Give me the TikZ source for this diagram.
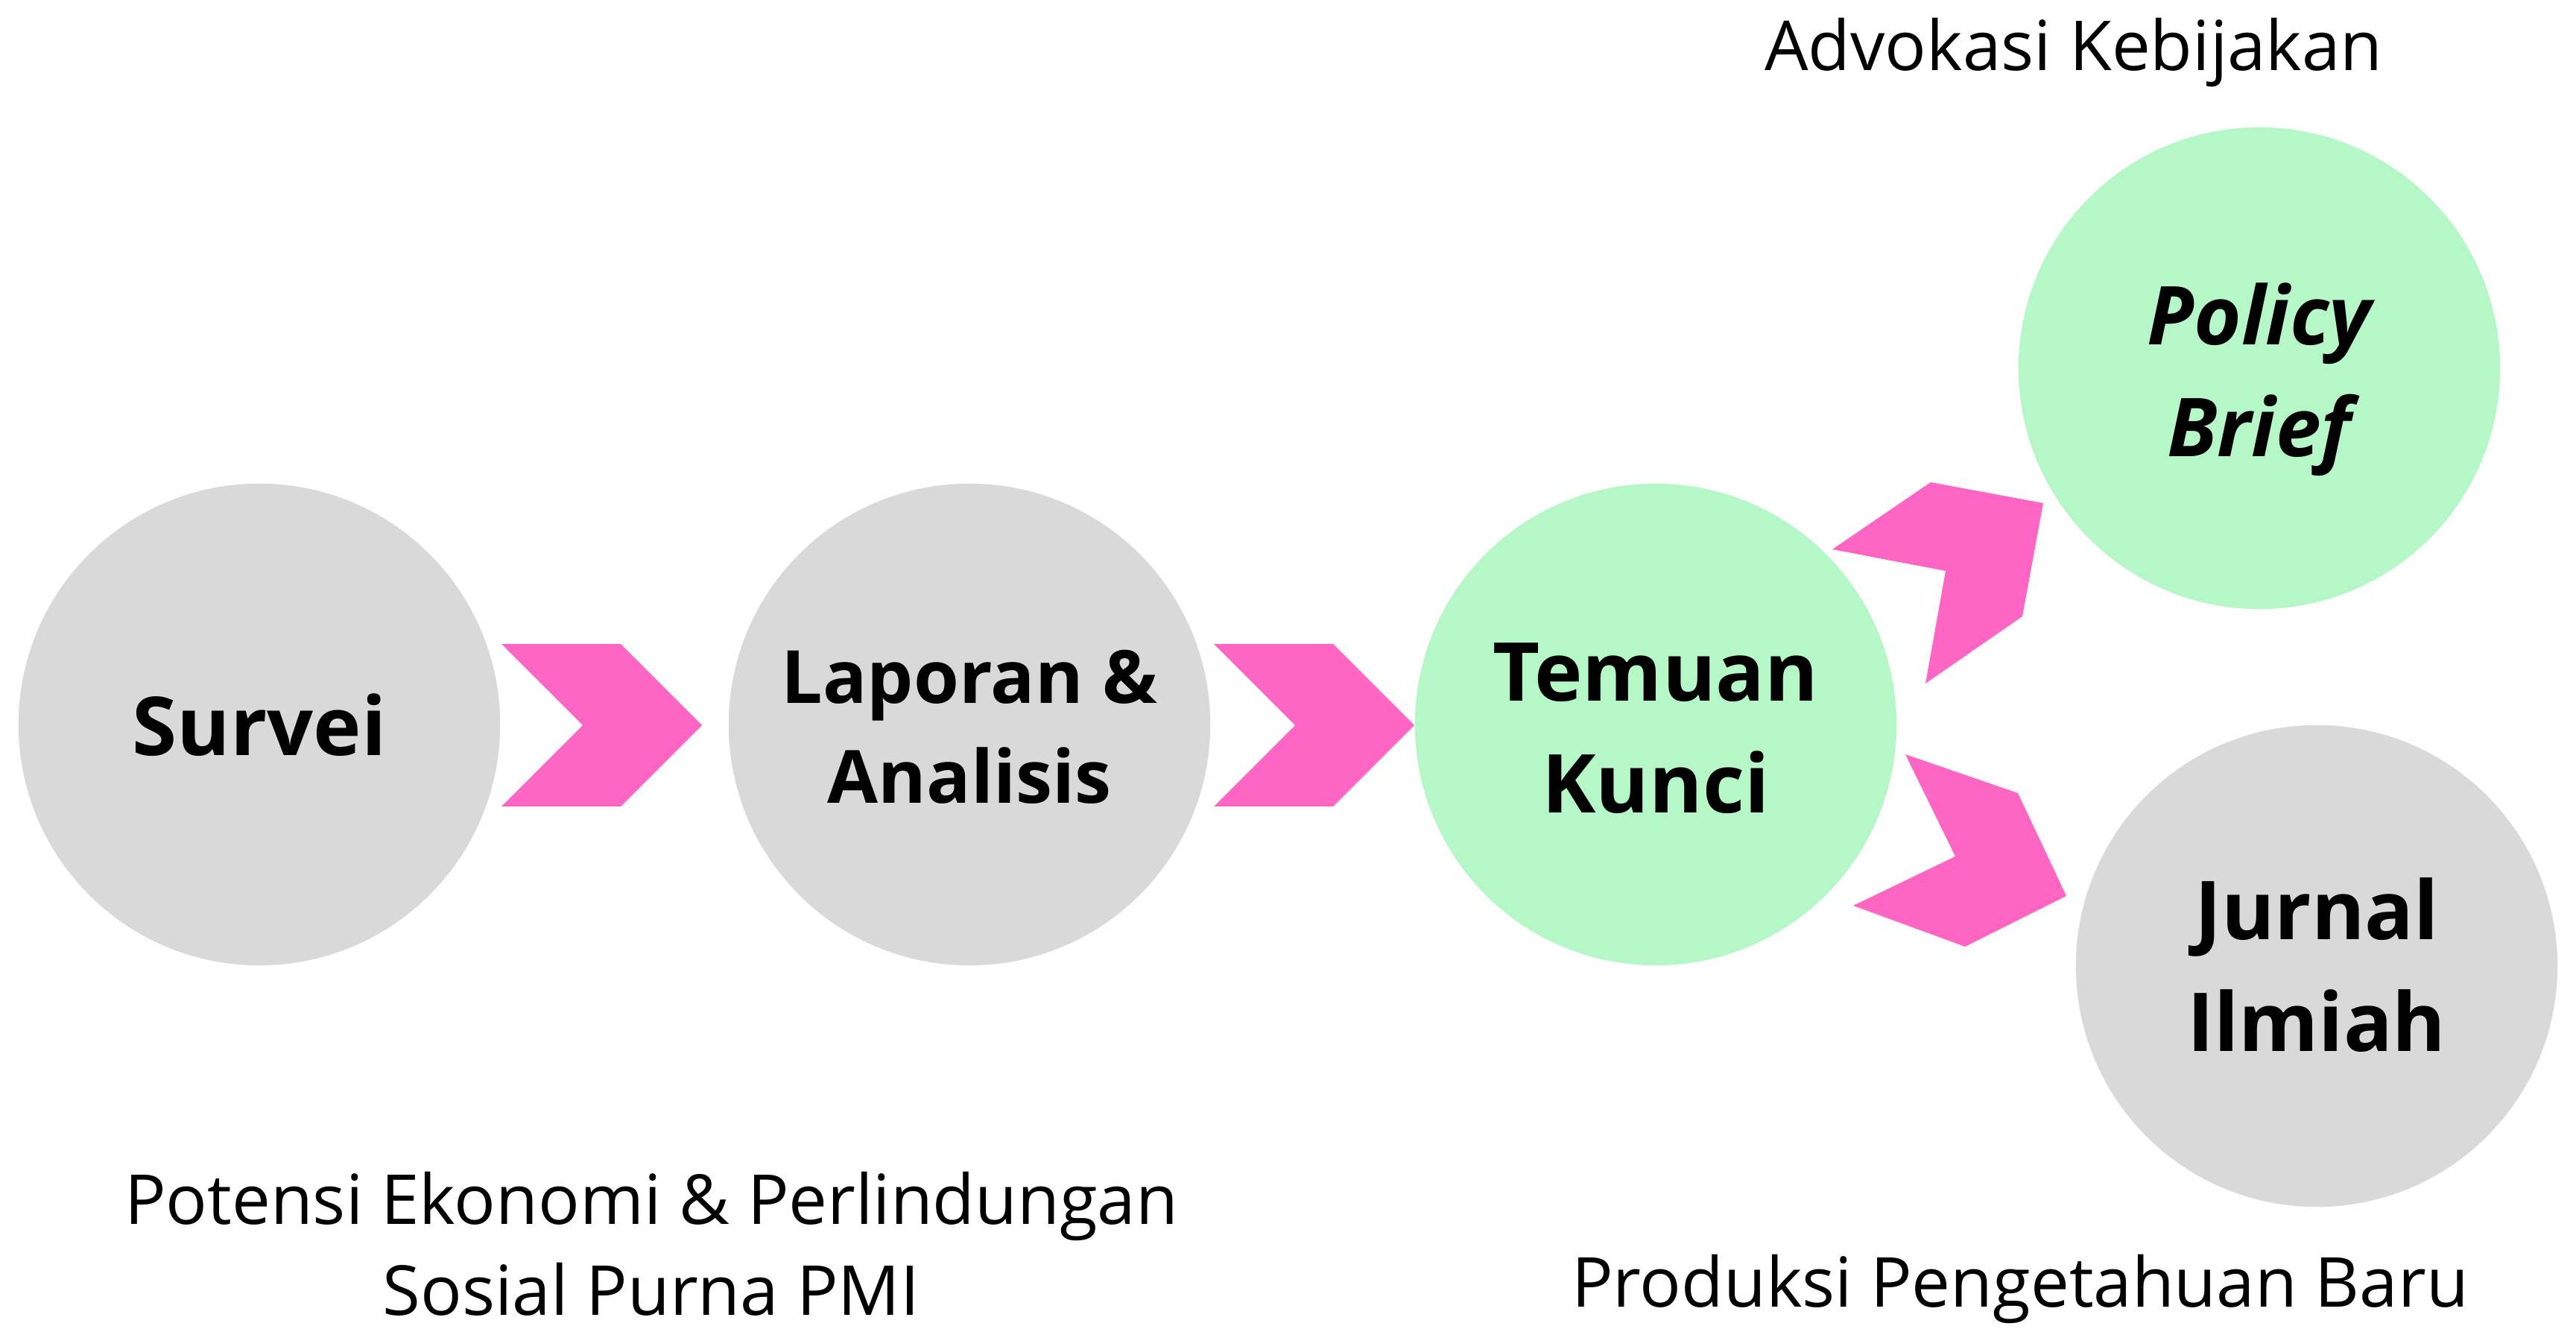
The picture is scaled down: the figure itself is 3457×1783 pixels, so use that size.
\documentclass[tikz,border=0pt]{standalone}
\usepackage{fontspec}
\setmainfont{Open Sans}
\definecolor{cgrey}{HTML}{D9D9D9}
\definecolor{cgreen}{HTML}{B6F7C8}
\definecolor{cpink}{HTML}{FF66C4}
\begin{document}
\begin{tikzpicture}[x=0.01cm,y=-0.01cm,
  circ/.style={circle, minimum size=6.46cm, inner sep=0pt, draw=none},
  greyc/.style={circ, fill=cgrey},
  greenc/.style={circ, fill=cgreen},
  chev/.style={fill=cpink, draw=none},
  lbl/.style={anchor=base, inner sep=0pt, font=\bfseries\fontsize{31}{37}\selectfont},
  slbl/.style={lbl, font=\bfseries\fontsize{28}{34}\selectfont},
  ilbl/.style={lbl, font=\bfseries\itshape\fontsize{31}{37}\selectfont},
  note/.style={anchor=base, inner sep=0pt, font=\fontsize{26.3}{31}\selectfont}]
\useasboundingbox (0,0) rectangle (3457,1783);
\fill[white] (0,0) rectangle (3457,1783);

% circles
\node[greyc]  (survei)  at (348,972) {};
\node[greyc]  (laporan) at (1301,972) {};
\node[greenc] (temuan)  at (2222,972) {};
\node[greenc] (policy)  at (3032,494) {};
\node[greyc]  (jurnal)  at (3109,1296) {};

% chevrons
\fill[chev] (673,864) -- (833,864) -- (942,973) -- (833,1082) -- (673,1082) -- (782,973) -- cycle;
\fill[chev] (1629,864) -- (1789,864) -- (1898,973) -- (1789,1082) -- (1629,1082) -- (1738,973) -- cycle;
\fill[chev] (2459,737) -- (2591,647) -- (2742,675) -- (2714,827) -- (2584,917) -- (2611,766) -- cycle;
\fill[chev] (2557,1012) -- (2708,1064) -- (2773,1202) -- (2637,1270) -- (2487,1215) -- (2624,1149) -- cycle;

% circle texts
\node[lbl] (t1)  at (348,1014) {Survei};
\node[slbl] (t2a) at (1301,944) {Laporan \&};
\node[slbl] (t2b) at (1301,1078) {Analisis};
\node[lbl] (t3a) at (2222,941) {Temuan};
\node[lbl] (t3b) at (2222,1091) {Kunci};
\node[ilbl] (t4a) at (3032,463) {Policy};
\node[ilbl] (t4b) at (3032,613) {Brief};
\node[lbl] (t5a) at (3109,1261) {Jurnal};
\node[lbl] (t5b) at (3109,1411) {Ilmiah};

% notes
\node[note] (n1)  at (2783,95) {Advokasi Kebijakan};
\node[note] (n2a) at (874,1642) {Potensi Ekonomi \& Perlindungan};
\node[note] (n2b) at (874,1764) {Sosial Purna PMI};
\node[note] (n3)  at (2711,1753) {Produksi Pengetahuan Baru};
\end{tikzpicture}
\end{document}
